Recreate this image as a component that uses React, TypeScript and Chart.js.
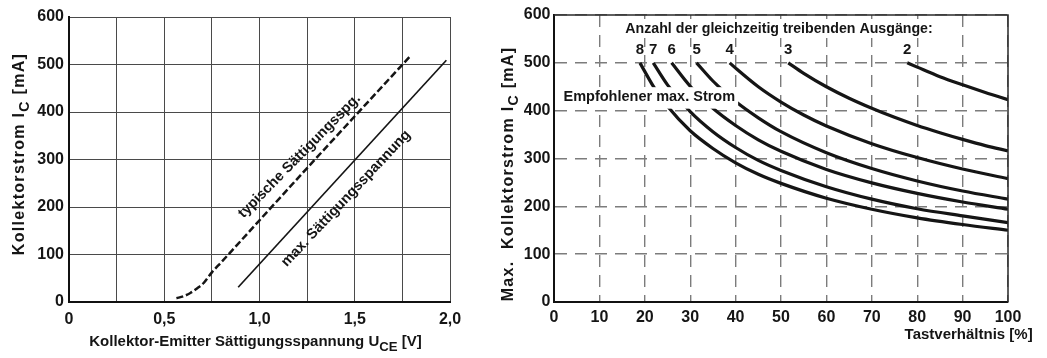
import React, { useEffect, useRef } from 'react';
import { Chart, registerables } from 'chart.js';

Chart.register(...registerables);

const FONT = "'Liberation Sans', Arial, Helvetica, sans-serif";
const INK = '#151515';

// ---------- Left chart: Kollektor-Emitter Sättigungsspannung ----------
const uceTickValues = [0, 0.5, 1.0, 1.5, 2.0];
const uceTickLabels = ['0', '0,5', '1,0', '1,5', '2,0'];
const typUce = [0.564, 0.6, 0.637, 0.67, 0.707, 0.751, 0.8, 1.0, 1.25, 1.5, 1.797];
const typIc = [8, 12, 19, 28, 40, 63, 84, 172, 282, 391, 520];
const maxUce = [0.888, 1.981];
const maxIc = [31, 509];
const typLabel = 'typische Sättigungsspg.';
const maxLabel = 'max. Sättigungsspannung';
const leftYTitle = [{ t: 'Kollektorstrom I' }, { t: 'C', sub: true }, { t: ' [mA]' }];
const leftXTitle = [{ t: 'Kollektor-Emitter Sättigungsspannung U' }, { t: 'CE', sub: true }, { t: ' [V]' }];

// ---------- Right chart: Tastverhältnis ----------
const curveLabels = ['2', '3', '4', '5', '6', '7', '8'];
const n2Duty = [77.8, 80, 85, 90, 95, 100];
const n2Ic = [500, 491, 471, 454, 438, 423];
const n3Duty = [51.6, 55, 60, 65, 70, 75, 80, 85, 90, 95, 100];
const n3Ic = [500, 478, 450, 426, 405, 386, 369, 354, 340, 327, 316];
const n4Duty = [38.7, 40, 45, 50, 55, 60, 70, 80, 90, 100];
const n4Ic = [500, 489, 450, 418, 391, 368, 331, 302, 278, 258];
const n5Duty = [31.4, 35, 37, 40, 45, 50, 60, 70, 80, 90, 100];
const n5Ic = [500, 462, 444, 419, 385, 356, 312, 279, 253, 232, 215];
const n6Duty = [25.9, 30, 35, 40, 45, 50, 60, 70, 80, 90, 100];
const n6Ic = [500, 451, 405, 369, 339, 315, 277, 249, 227, 209, 194];
const n7Duty = [21.86, 25, 30, 35, 40, 45, 50, 60, 70, 80, 90, 100];
const n7Ic = [500, 454, 398, 356, 323, 296, 275, 241, 215, 195, 180, 166];
const n8Duty = [18.93, 22, 25, 30, 35, 40, 45, 50, 60, 70, 80, 90, 100];
const n8Ic = [500, 449, 409, 358, 321, 291, 267, 248, 217, 194, 176, 162, 150];
const headerText = 'Anzahl der gleichzeitig treibenden Ausgänge:';
const recommendText = 'Empfohlener max. Strom';
const recommendLevel = 400;
const rightYTitle = [{ t: 'Max.  Kollektorstrom I' }, { t: 'C', sub: true }, { t: ' [mA]' }];
const rightXTitle = [{ t: 'Tastverhältnis [%]' }];

type Seg = { t: string; sub?: boolean };

function pts(xs: number[], ys: number[]) {
  return xs.map((x, i) => ({ x, y: ys[i] }));
}

function drawRich(
  ctx: CanvasRenderingContext2D,
  segs: Seg[],
  x: number,
  y: number,
  size: number,
  align: 'left' | 'center' | 'right',
  angle = 0,
  spacing = 0
) {
  ctx.save();
  ctx.translate(x, y);
  ctx.rotate(angle);
  const main = `bold ${size}px ${FONT}`;
  const subF = `bold ${size * 0.88}px ${FONT}`;
  (ctx as any).letterSpacing = `${spacing}px`;
  let total = 0;
  const widths = segs.map((s) => {
    ctx.font = s.sub ? subF : main;
    const w = ctx.measureText(s.t).width;
    total += w;
    return w;
  });
  let cx = align === 'left' ? 0 : align === 'center' ? -total / 2 : -total;
  ctx.textAlign = 'left';
  ctx.textBaseline = 'alphabetic';
  ctx.fillStyle = INK;
  segs.forEach((s, i) => {
    ctx.font = s.sub ? subF : main;
    ctx.fillText(s.t, cx, s.sub ? size * 0.3 : 0);
    cx += widths[i];
  });
  ctx.restore();
}

function drawRotatedCentered(ctx: CanvasRenderingContext2D, text: string, x: number, y: number, size: number, angleDeg: number) {
  ctx.save();
  ctx.translate(x, y);
  ctx.rotate((angleDeg * Math.PI) / 180);
  ctx.font = `bold ${size}px ${FONT}`;
  ctx.fillStyle = INK;
  ctx.textAlign = 'center';
  ctx.textBaseline = 'middle';
  ctx.fillText(text, 0, 0);
  ctx.restore();
}

const tickFont = { family: FONT, size: 16, weight: 'bold' as const };

function leftConfig(): any {
  return {
    type: 'line',
    data: {
      datasets: [
        {
          data: pts(typUce, typIc),
          borderColor: INK,
          borderWidth: 2.5,
          borderDash: [7, 3],
          pointRadius: 0,
          cubicInterpolationMode: 'monotone',
          fill: false,
        },
        {
          data: pts(maxUce, maxIc),
          borderColor: INK,
          borderWidth: 1.7,
          pointRadius: 0,
          fill: false,
        },
      ],
    },
    options: {
      animation: false,
      responsive: false,
      maintainAspectRatio: false,
      events: [],
      layout: { padding: { left: 0, top: 17, right: 30, bottom: 0 } },
      plugins: { legend: { display: false }, tooltip: { enabled: false } },
      scales: {
        x: {
          type: 'linear',
          min: 0,
          max: 2,
          afterFit: (s: any) => {
            s.height = 56;
          },
          ticks: {
            stepSize: 0.25,
            autoSkip: false,
            maxRotation: 0,
            padding: 8,
            color: INK,
            font: tickFont,
            callback: (v: number) => {
              const i = uceTickValues.findIndex((t) => Math.abs(t - v) < 1e-6);
              return i >= 0 ? uceTickLabels[i] : '';
            },
          },
          grid: { color: '#4a4a4a', lineWidth: 1, drawTicks: false },
          border: { display: true, color: '#111', width: 2 },
        },
        y: {
          type: 'linear',
          min: 0,
          max: 600,
          afterFit: (s: any) => {
            s.width = 69;
          },
          ticks: { stepSize: 100, padding: 5, color: INK, font: tickFont },
          grid: { color: '#4a4a4a', lineWidth: 1, drawTicks: false },
          border: { display: true, color: '#111', width: 2 },
        },
      },
    },
    plugins: [
      {
        id: 'leftText',
        afterDraw(chart: any) {
          const ctx = chart.ctx as CanvasRenderingContext2D;
          drawRotatedCentered(ctx, typLabel, 299.5, 156, 14.5, -45.5);
          drawRotatedCentered(ctx, maxLabel, 346, 198.5, 14.5, -46.8);
          drawRich(ctx, leftXTitle as Seg[], 255.5, 346, 15, 'center');
          drawRich(ctx, leftYTitle as Seg[], 24, 154, 16, 'center', -Math.PI / 2, 1.3);
        },
      },
    ],
  };
}

function rightConfig(): any {
  const sets = [
    [n2Duty, n2Ic],
    [n3Duty, n3Ic],
    [n4Duty, n4Ic],
    [n5Duty, n5Ic],
    [n6Duty, n6Ic],
    [n7Duty, n7Ic],
    [n8Duty, n8Ic],
  ];
  return {
    type: 'line',
    data: {
      datasets: sets.map(([xs, ys]) => ({
        data: pts(xs, ys),
        borderColor: INK,
        borderWidth: 3.2,
        pointRadius: 0,
        cubicInterpolationMode: 'monotone',
        fill: false,
      })),
    },
    options: {
      animation: false,
      responsive: false,
      maintainAspectRatio: false,
      events: [],
      layout: { padding: { left: 0, top: 15, right: 39, bottom: 0 } },
      plugins: { legend: { display: false }, tooltip: { enabled: false } },
      scales: {
        x: {
          type: 'linear',
          min: 0,
          max: 100,
          afterFit: (s: any) => {
            s.height = 56;
          },
          ticks: { stepSize: 10, autoSkip: false, maxRotation: 0, padding: 6, color: INK, font: tickFont },
          grid: { color: '#7c7c7c', lineWidth: 1.4, drawTicks: false },
          border: { display: true, color: '#111', width: 2, dash: [12, 8] },
        },
        y: {
          type: 'linear',
          min: 0,
          max: 600,
          afterFit: (s: any) => {
            s.width = 74;
          },
          ticks: { stepSize: 100, padding: 3.5, color: INK, font: tickFont },
          grid: { color: '#7c7c7c', lineWidth: 1.4, drawTicks: false },
          border: { display: true, color: '#111', width: 2, dash: [12, 8] },
        },
      },
    },
    plugins: [
      {
        id: 'rightText',
        afterDatasetsDraw(chart: any) {
          const ctx = chart.ctx as CanvasRenderingContext2D;
          const { chartArea: a, scales } = chart;
          const xs = scales.x;
          const ys = scales.y;
          // solid frame top / right
          ctx.save();
          ctx.setLineDash([]);
          ctx.strokeStyle = '#2a2a2a';
          ctx.lineWidth = 1.5;
          ctx.beginPath();
          ctx.moveTo(a.left, a.top);
          ctx.lineTo(a.right, a.top);
          ctx.lineTo(a.right, a.bottom);
          ctx.stroke();
          ctx.restore();

          // header
          ctx.save();
          ctx.font = `bold 14.2px ${FONT}`;
          const hw = ctx.measureText(headerText).width;
          const hx = (a.left + a.right) / 2 - 2;
          const hy = a.top + 14;
          ctx.fillStyle = '#fff';
          ctx.fillRect(hx - hw / 2 - 3, hy - 10, hw + 6, 19);
          ctx.fillStyle = INK;
          ctx.textAlign = 'center';
          ctx.textBaseline = 'middle';
          ctx.fillText(headerText, hx, hy);

          // curve numbers
          ctx.font = `bold 15px ${FONT}`;
          const firsts = [n2Duty, n3Duty, n4Duty, n5Duty, n6Duty, n7Duty, n8Duty];
          firsts.forEach((d, i) => {
            ctx.fillText(curveLabels[i], xs.getPixelForValue(d[0]), ys.getPixelForValue(500) - 12.5);
          });

          // recommended max current
          ctx.font = `bold 14.5px ${FONT}`;
          const rw = ctx.measureText(recommendText).width;
          const rx = a.left + 9.5;
          const rb = ys.getPixelForValue(recommendLevel) - 9.5;
          ctx.fillStyle = '#fff';
          ctx.fillRect(rx - 4, rb - 14, rw + 7, 21.5);
          ctx.fillStyle = INK;
          ctx.textAlign = 'left';
          ctx.textBaseline = 'alphabetic';
          ctx.fillText(recommendText, rx, rb);
          ctx.restore();
        },
        afterDraw(chart: any) {
          const ctx = chart.ctx as CanvasRenderingContext2D;
          drawRich(ctx, rightXTitle as Seg[], 552.7, 339, 15, 'right');
          drawRich(ctx, rightYTitle as Seg[], 33, 174, 16, 'center', -Math.PI / 2, 1.3);
        },
      },
    ],
  };
}

export default function App() {
  const leftRef = useRef<HTMLCanvasElement>(null);
  const rightRef = useRef<HTMLCanvasElement>(null);

  useEffect(() => {
    const c1 = new Chart(leftRef.current as HTMLCanvasElement, leftConfig());
    const c2 = new Chart(rightRef.current as HTMLCanvasElement, rightConfig());
    return () => {
      c1.destroy();
      c2.destroy();
    };
  }, []);

  return (
    <div style={{ position: 'fixed', left: 0, top: 0, width: 1047, height: 358, background: '#fff' }}>
      <canvas
        ref={leftRef}
        width={480}
        height={358}
        style={{ position: 'absolute', left: 0, top: 0, width: 480, height: 358 }}
      />
      <canvas
        ref={rightRef}
        width={567}
        height={358}
        style={{ position: 'absolute', left: 480, top: 0, width: 567, height: 358 }}
      />
    </div>
  );
}
